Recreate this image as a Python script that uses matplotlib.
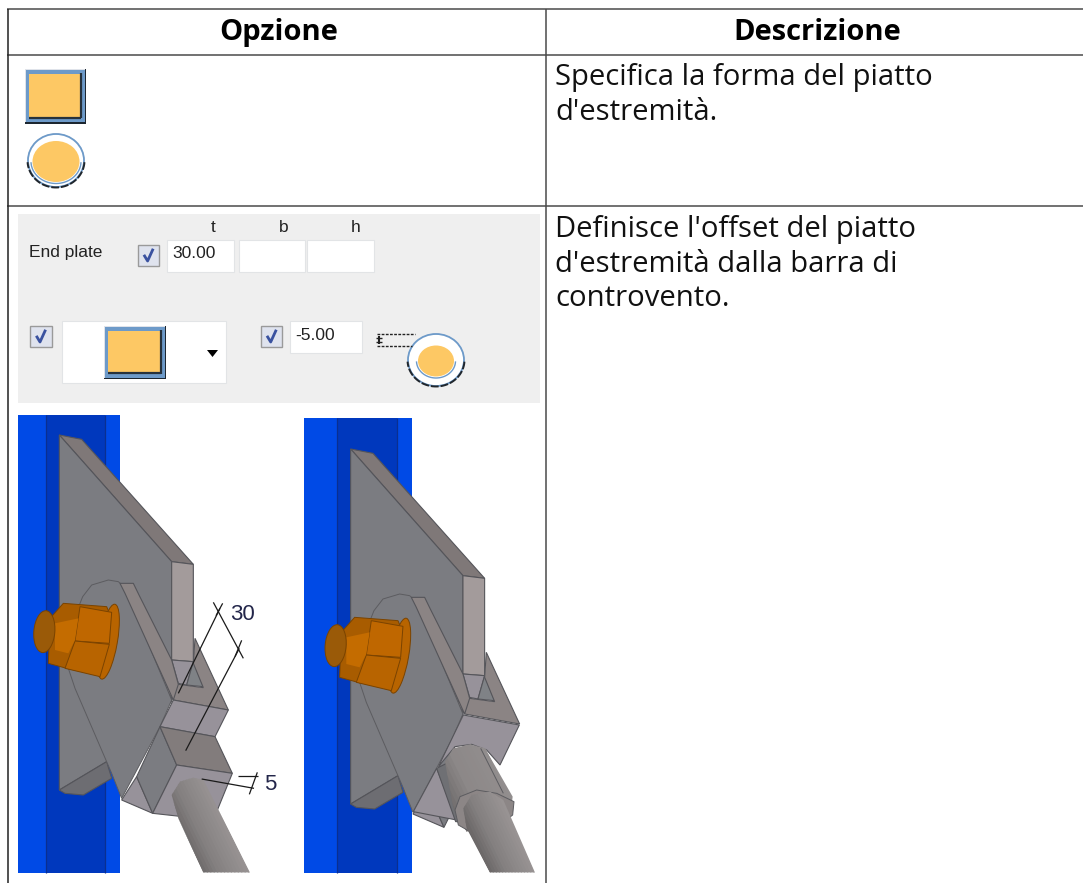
"""Opzione / Descrizione table with the end plate option pictures."""

import numpy as np
import matplotlib
matplotlib.use('Agg')
import matplotlib.pyplot as plt
from matplotlib.patches import Ellipse, Polygon, Rectangle

# ============================================================
# Table content
# ============================================================
headers = ['Opzione', 'Descrizione']
row1_lines = ['Specifica la forma del piatto', "d'estremità."]
row2_lines = ["Definisce l'offset del piatto", "d'estremità dalla barra di", 'controvento.']
panel_columns = ['t', 'b', 'h']
panel_label = 'End plate'
panel_t_value = '30.00'
panel_offset_value = '-5.00'
dim_labels = ['30', '5']

W, H = 1083, 883
fig = plt.figure(figsize=(W / 100, H / 100), dpi=100)
ax = fig.add_axes([0, 0, 1, 1])
ax.set_xlim(0, W)
ax.set_ylim(H, 0)
ax.axis('off')

FONT = ['Open Sans', 'Noto Sans', 'DejaVu Sans']
UI_FONT = ['Liberation Sans', 'DejaVu Sans']
LINE = '#4a4a4a'


def rect(x0, y0, x1, y1, fc, ec='none', lw=0.0, z=2):
    ax.add_patch(Rectangle((x0, y0), x1 - x0, y1 - y0, facecolor=fc, edgecolor=ec, linewidth=lw, zorder=z))


def lz(x0, y0, x1, y1, color='#111111', lw=1.0, z=8, ls='-'):
    ax.plot([x0, x1], [y0, y1], color=color, lw=lw, zorder=z, ls=ls, solid_capstyle='butt')


# ============================================================
# Table grid (the right border falls outside the picture)
# ============================================================
for y in [9, 54.5, 206]:
    lz(7, y, W, y, LINE, 1.1, 1)
for x in [7.5, 545.5]:
    lz(x, 9, x, H, LINE if x > 10 else '#222222', 1.1, 1)

ax.text(279, 40, headers[0], fontsize=21, fontweight='bold', family=FONT, ha='center', va='baseline', color='black')
ax.text(817, 40, headers[1], fontsize=21, fontweight='bold', family=FONT, ha='center', va='baseline', color='black')
for y, s in zip([85, 120], row1_lines):
    ax.text(555, y, s, fontsize=21.1, family=FONT, ha='left', va='baseline', color='#111111')
for y, s in zip([237, 272, 306], row2_lines):
    ax.text(555, y, s, fontsize=21.1, family=FONT, ha='left', va='baseline', color='#111111')


# ============================================================
# Icons
# ============================================================
def square_icon(x0, y0, x1, y1):
    rect(x0, y0, x1, y1, '#1c2630')
    rect(x0, y0, x1 - 1.5, y1 - 1.5, '#dfe3ea')
    rect(x0 + 1, y0 + 1, x1 - 1.5, y1 - 1.5, '#6d9ac9', z=3)
    rect(x0 + 4, y0 + 4.5, x1 - 6, y1 - 6.5, '#fdc864', z=4)
    lz(x1 - 5.5, y0 + 4, x1 - 5.5, y1 - 5.5, '#27323c', 1.6, 5)
    lz(x0 + 4, y1 - 6, x1 - 5, y1 - 6, '#27323c', 1.6, 5)


def circle_icon(cx, cy, w_out, h_out, w_in, h_in, in_dy=1.0):
    t = np.linspace(0.02 * np.pi, 0.98 * np.pi, 40)
    ax.add_patch(Ellipse((cx, cy), w_out + 1.5, h_out + 1.5, facecolor='#e3e6ea', edgecolor='none', zorder=2))
    ax.add_patch(Ellipse((cx, cy), w_out, h_out, facecolor='white', edgecolor='#6d9ac9', linewidth=1.3, zorder=3))
    ax.plot(cx + (w_out / 2 + 0.5) * np.cos(t), cy + (h_out / 2 + 0.5) * np.sin(t), color='#20262c', lw=1.4,
            zorder=4, ls=(0, (4, 1)))
    ax.add_patch(Ellipse((cx, cy + in_dy), w_in, h_in, facecolor='#fdc864', edgecolor='none', zorder=5))
    ax.plot(cx + (w_in / 2 + 1.5) * np.cos(t), cy + in_dy + (h_in / 2 + 1.5) * np.sin(t), color='#6d9ac9', lw=1.0, zorder=4.5)


def checkbox(x0, y0):
    rect(x0, y0, x0 + 21.5, y0 + 21, '#dfe3ee', '#9a9a9a', 1.0, 3)
    ax.plot([x0 + 7, x0 + 10, x0 + 15], [y0 + 11, y0 + 16, y0 + 5], color='#3a52a0', lw=2.0, zorder=4)


square_icon(25.4, 69, 86.2, 123.5)
circle_icon(56, 160.5, 56, 53, 47, 41)

# ============================================================
# Panel
# ============================================================
rect(18, 214, 540, 402.5, '#efefef', z=1.5)
for x0, x1, y0, y1 in [(167, 234, 240, 272), (238.5, 305, 240, 272), (307, 374, 240, 272),
                       (61.5, 226, 321, 383), (289.5, 362, 321, 353)]:
    rect(x0, y0, x1, y1, 'white', '#e2e4e6', 0.8)
for x, s in zip([213, 284, 355.5], panel_columns):
    ax.text(x, 228, s, fontsize=12.5, family=UI_FONT, ha='center', va='center', color='#222222')
ax.text(29, 252, panel_label, fontsize=12.5, family=UI_FONT, ha='left', va='center', color='#222222')
ax.text(172.5, 254, panel_t_value, fontsize=12.5, family=UI_FONT, ha='left', va='center', color='#222222')
ax.text(295.5, 335, panel_offset_value, fontsize=12.5, family=UI_FONT, ha='left', va='center', color='#222222')
checkbox(137.6, 245)
checkbox(30, 326)
checkbox(260.7, 326)
square_icon(103.6, 326, 166, 379)
ax.add_patch(Polygon([(207, 350), (218, 350), (212.5, 357)], facecolor='black', edgecolor='none', zorder=4))
circle_icon(436, 360, 56, 52, 36, 31)
lz(377, 334, 415, 334, '#222222', 1.0, 5, (0, (2, 1)))
lz(377, 346, 412, 346, '#222222', 1.0, 5, (0, (2, 1)))
lz(379, 336, 379, 344, '#222222', 1.5, 5)
lz(376, 338, 382, 338, '#222222', 1.0, 5)
lz(376, 342, 382, 342, '#222222', 1.0, 5)


# ============================================================
# 3D pictures: shapes in zoom x3 pixels of each picture
# ============================================================
def poly(pts, fc, dx, dy, ec='#55555a', lw=0.8, z=6):
    xy = [(x / 3 + dx, y / 3 + dy) for x, y in pts]
    p = Polygon(xy, closed=True, facecolor=fc, edgecolor=ec, linewidth=lw, zorder=z)
    ax.add_patch(p)
    return p


def blue_column(x0, x1, x2, x3, top):
    rect(x0, top, x3, 873, '#004ae6', z=3)
    rect(x1, top, x2, 873, '#0038bd', z=3)
    lz(x1, top, x1, 873, '#0a2f90', 0.9, 3.5)
    lz(x2, top, x2, 873, '#0a2f90', 0.9, 3.5)


def plate(dx, dy):
    poly([(178, 90), (245, 103), (580, 478), (515, 470)], '#7f7878', dx, dy)
    poly([(178, 90), (515, 470), (515, 890), (320, 1070), (178, 1155)], '#7b7c81', dx, dy)
    poly([(515, 470), (580, 478), (580, 770), (515, 765)], '#a39b9b', dx, dy)
    poly([(178, 1155), (320, 1070), (335, 1120), (250, 1170), (195, 1165)], '#6d6d72', dx, dy)
    poly([(515, 765), (580, 770), (560, 840), (535, 835)], '#97929a', dx, dy)
    poly([(580, 770), (610, 845), (560, 840)], '#7f8286', dx, dy)
    poly([(585, 700), (685, 915), (520, 885), (495, 850), (535, 838), (610, 848), (580, 775)], '#8b8484', dx, dy)
    # gusset
    poly([(205, 790), (212, 720), (228, 625), (248, 575), (275, 540), (325, 525), (355, 530), (375, 548),
          (515, 885), (480, 965), (365, 1180), (335, 1105), (225, 850)],
         '#7b7c81', dx, dy, '#5c5c60', 0.7, 6.1)
    poly([(360, 535), (400, 535), (418, 572), (515, 765), (535, 838), (520, 885), (375, 565)], '#8b8484', dx, dy, z=6.2)
    poly([(410, 1115), (458, 1225), (365, 1185)], '#97929a', dx, dy, z=6.2)
    poly([(480, 965), (530, 1080), (458, 1225), (410, 1115)], '#7b7c81', dx, dy, z=6.2)


def nut(dx, dy):
    brown = '#7a4300'
    poly([(150, 640), (190, 595), (320, 605), (335, 640), (330, 720), (300, 810), (200, 790), (145, 775)],
         '#a85c00', dx, dy, brown, 0.7, 7)
    ax.add_patch(Ellipse((325 / 3 + dx, 710 / 3 + dy), 18, 76, angle=10, facecolor='#b86400',
                         edgecolor=brown, linewidth=0.7, zorder=7))
    poly([(240, 605), (335, 622), (328, 715), (225, 708)], '#bf6700', dx, dy, brown, 0.7, 7.1)
    poly([(225, 708), (328, 718), (300, 815), (195, 790)], '#b86400', dx, dy, brown, 0.7, 7.1)
    poly([(165, 655), (235, 640), (225, 705), (205, 745), (165, 735)], '#c46c00', dx, dy, 'none', 0, 7.1)
    ax.add_patch(Ellipse((133 / 3 + dx, 680 / 3 + dy), 21, 42, angle=5, facecolor='#9a5a08',
                         edgecolor=brown, linewidth=0.7, zorder=7.2))


def rod(outline, lt, lb, rt, rb, dx, dy, z=7, n=16, shade=(104, 132, 152)):
    lt, lb, rt, rb = [np.array(p, dtype=float) for p in (lt, lb, rt, rb)]
    clip = poly(outline, 'none', dx, dy, 'none', 0, z)
    shades = np.interp(np.linspace(0, 1, n), [0, 0.4, 1], shade)
    for i in range(n):
        a0, a1 = i / n, (i + 1) / n + 0.02
        g = shades[i] / 255
        s = poly([lt + (rt - lt) * a0, lt + (rt - lt) * a1, lb + (rb - lb) * a1, lb + (rb - lb) * a0],
                 (g, g * 0.97, g * 0.97), dx, dy, 'none', 0, z)
        s.set_clip_path(clip)


# Left picture
ox, oy = 0, 405
blue_column(18, 45.7, 105, 120.3, 414.5)
plate(ox, oy)
poly([(520, 885), (685, 915), (645, 995), (480, 965)], '#97929a', ox, oy, z=6.3)
poly([(480, 965), (645, 995), (697, 1105), (530, 1080)], '#827c7c', ox, oy, z=6.3)
poly([(530, 1080), (697, 1105), (640, 1245), (458, 1225)], '#97929a', ox, oy, z=6.3)
rod([(515, 1170), (540, 1130), (580, 1118), (610, 1125), (750, 1403), (610, 1403), (535, 1240)],
    (440, 1100), (590, 1403), (610, 1100), (755, 1403), ox, oy)
nut(ox, oy)

# dimension lines of the left picture
for x0, y0, x1, y1 in [(535, 865, 660, 610), (557, 1037, 718, 730), (640, 592, 730, 760),
                       (668, 595, 648, 632), (725, 706, 705, 755), (605, 1122, 762, 1150),
                       (715, 1112, 775, 1112), (748, 1168, 772, 1102)]:
    lz(x0 / 3, y0 / 3 + oy, x1 / 3, y1 / 3 + oy, '#1a1a1a', 0.9, 8)
ax.text(242, 615, dim_labels[0], fontsize=16, family=UI_FONT, ha='center', va='center', color='#23264a', zorder=9)
ax.text(270, 785, dim_labels[1], fontsize=16, family=UI_FONT, ha='center', va='center', color='#23264a', zorder=9)

# Right picture
ox, oy = 291.3, 419
blue_column(304.3, 336.7, 396.7, 411.7, 418)
plate(ox, oy)
ox3, oy3 = 290, 405
poly([(520, 930), (688, 960), (630, 1080), (590, 1035), (545, 1018), (495, 1025), (445, 1085)], '#97929a', ox3, oy3, z=6.3)
poly([(440, 1090), (500, 1245), (370, 1220)], '#97929a', ox3, oy3, z=6.25)
poly([(440, 1090), (470, 1075), (520, 1250), (497, 1250)], '#6f7074', ox3, oy3, z=6.4)
rod([(465, 1070), (490, 1030), (540, 1018), (585, 1030), (668, 1175), (660, 1235), (530, 1280), (490, 1210)],
    (400, 1040), (520, 1290), (580, 1000), (700, 1240), ox3, oy3, z=6.6, shade=(112, 140, 146))
lz(290 + 572 / 3, 405 + 1030 / 3, 290 + 640 / 3, 405 + 1165 / 3, '#5c5c60', 0.7, 6.7)
poly([(495, 1215), (510, 1175), (560, 1155), (620, 1165), (672, 1190), (668, 1230), (655, 1240), (540, 1280), (505, 1260)],
     '#8c8686', ox3, oy3, '#5c5c60', 0.7, 6.8)
rod([(520, 1210), (545, 1170), (600, 1160), (640, 1185), (735, 1403), (600, 1403), (530, 1270)],
    (450, 1120), (590, 1403), (610, 1120), (740, 1403), ox3, oy3, z=7)
nut(ox, oy)

fig.savefig('out.png', dpi=100, facecolor='white')
